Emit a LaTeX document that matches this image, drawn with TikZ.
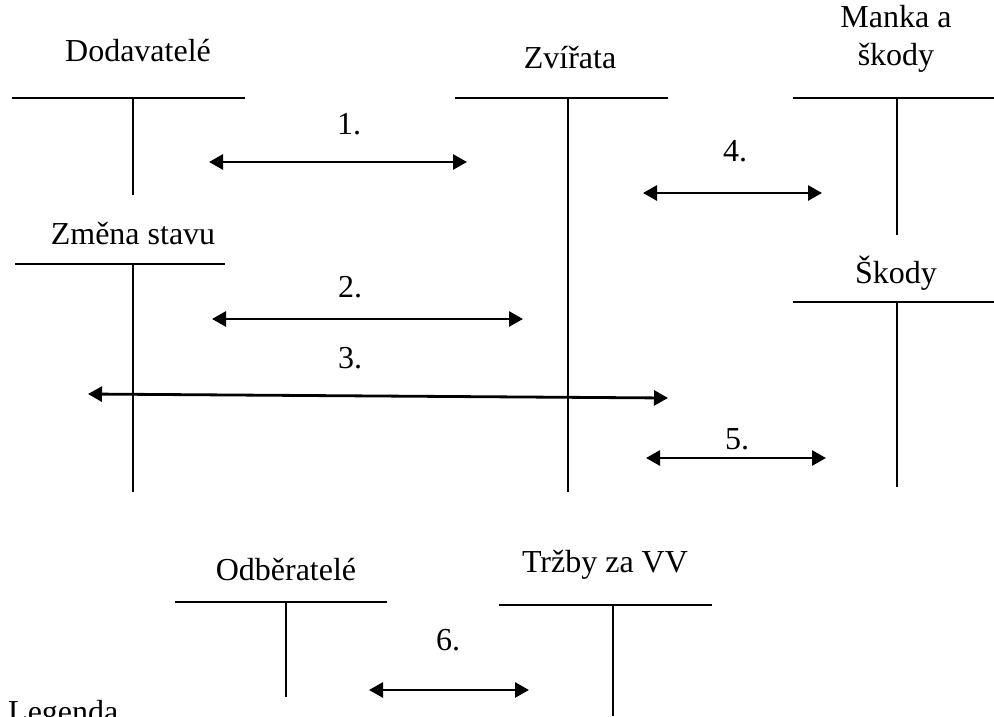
\documentclass[tikz,border=0pt]{standalone}
\usepackage{fontspec}
\setmainfont{Liberation Serif}
\usetikzlibrary{arrows.meta}
\begin{document}
\begin{tikzpicture}[x=1pt,y=-1pt,
  lbl/.style={font=\fontsize{32}{38}\selectfont, inner sep=0pt, align=center},
  bar/.style={line width=2.6pt},
  stem/.style={line width=1.8pt},
  flow/.style={line width=2.8pt, {Triangle[length=14pt,width=15pt]}-{Triangle[length=14pt,width=15pt]}}]
\useasboundingbox (0,0) rectangle (994,716);

% account titles
\node[lbl] (tDod) at (138,51) {Dodavatelé};
\node[lbl] (tZvi) at (570,58) {Zvířata};
\node[lbl] (tMan) at (896,39) {Manka a\\škody};
\node[lbl] (tZme) at (133,234) {Změna stavu};
\node[lbl] (tSko) at (896,273) {Škody};
\node[lbl] (tOdb) at (286,570) {Odběratelé};
\node[lbl] (tTrz) at (605,565) {Tržby za VV};
\node[lbl, anchor=north west] (tLeg) at (8,700) {Legenda};

% T-accounts: top bar and vertical stem
\draw[bar] (12,98) -- (218,98);  \draw[line width=1.2pt] (218,98) -- (245,98);
\draw[stem] (133,98) -- (133,195);

\draw[line width=1.2pt] (455,98) -- (477,98);  \draw[bar] (477,98) -- (668,98);
\draw[stem] (568,98) -- (568,492);

\draw[bar] (793,98) -- (994,98);
\draw[stem] (897,98) -- (897,235);

\draw[bar] (15,264) -- (225,264);
\draw[stem] (133,264) -- (133,492);

\draw[bar] (793,302) -- (994,302);
\draw[stem] (897,302) -- (897,487);

\draw[line width=2pt] (175,602) -- (387,602);
\draw[stem] (286,602) -- (286,697);

\draw[bar] (499,605) -- (712,605);
\draw[stem] (613,605) -- (613,716);

% numbered postings
\coordinate (a1l) at (209,162); \coordinate (a1r) at (467,162);
\coordinate (a2l) at (212,319); \coordinate (a2r) at (523,319);
\coordinate (a3l) at (88,394);  \coordinate (a3r) at (668,398);
\coordinate (a4l) at (643,193); \coordinate (a4r) at (822,193);
\coordinate (a5l) at (646,458); \coordinate (a5r) at (826,458);
\coordinate (a6l) at (369,690); \coordinate (a6r) at (529,690);
\draw[flow] (a1l) -- (a1r);
\draw[flow] (a2l) -- (a2r);
\draw[flow] (a3l) -- (a3r);
\draw[flow] (a4l) -- (a4r);
\draw[flow] (a5l) -- (a5r);
\draw[flow] (a6l) -- (a6r);

\node[lbl] (n1) at (349,124) {1.};
\node[lbl] (n2) at (350,287) {2.};
\node[lbl] (n3) at (350,358) {3.};
\node[lbl] (n4) at (735,151) {4.};
\node[lbl] (n5) at (737,439) {5.};
\node[lbl] (n6) at (448,640) {6.};
\end{tikzpicture}
\end{document}
